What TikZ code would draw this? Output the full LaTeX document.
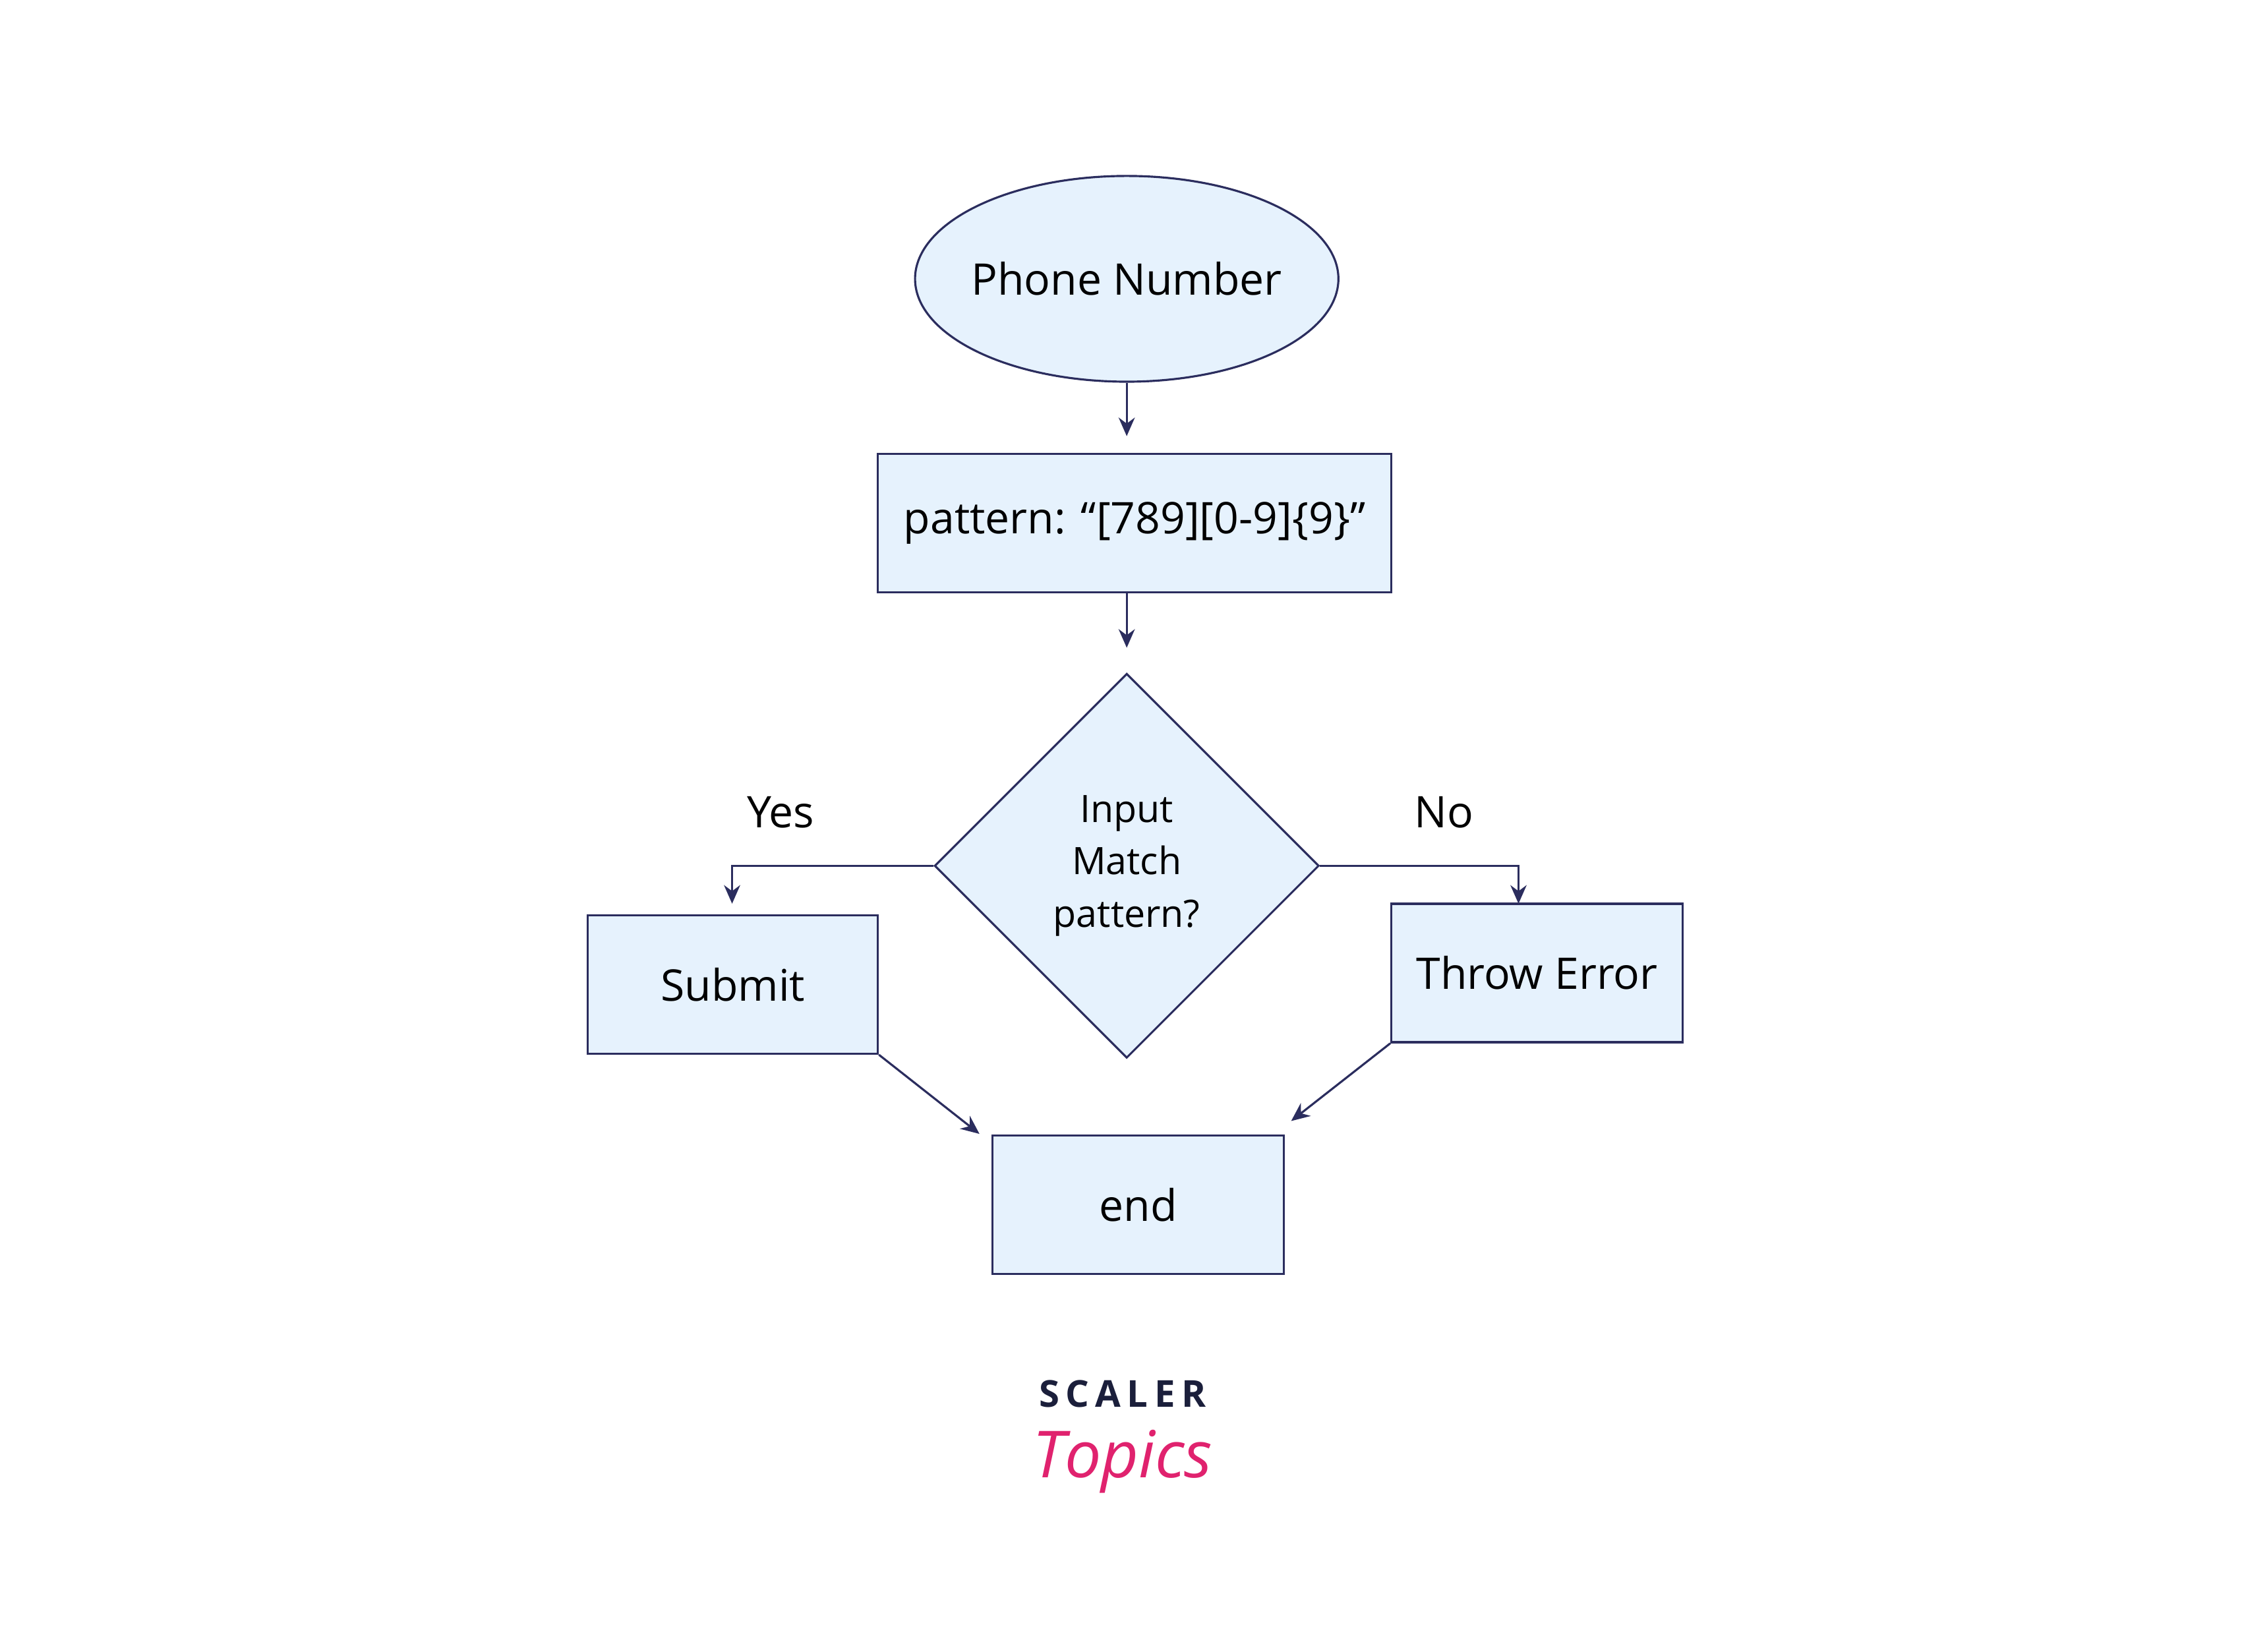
\documentclass[tikz,border=0pt]{standalone}
\usepackage{fontspec}
\setmainfont{Open Sans}
\usetikzlibrary{shapes.geometric,arrows.meta}
\definecolor{bx}{HTML}{E6F2FD}
\definecolor{ln}{HTML}{2B2D5E}
\definecolor{pk}{HTML}{E0226E}
\definecolor{dk}{HTML}{1B1F3B}
\begin{document}
\begin{tikzpicture}[x=0.02169cm,y=-0.02169cm,
  shp/.style={draw=ln,fill=bx,line width=0.9pt,inner sep=0pt,font=\fontsize{18.8}{22}\selectfont,text=black},
  rbox/.style={shp,rectangle,minimum height=2.10cm},
  con/.style={draw=ln,line width=0.9pt,-{Stealth[length=8pt,width=7pt]}}]
\useasboundingbox (0,0) rectangle (1568,1155);
\node[shp,ellipse,inner xsep=-6pt,minimum width=6.42cm,minimum height=3.12cm] (start) at (788,195) {Phone Number};
\node[rbox,minimum width=7.79cm] (pat) at (793.5,366) {pattern: “[789][0-9]\{9\}”};
\node[shp,diamond,minimum width=5.83cm,minimum height=5.83cm,align=center,font=\fontsize{16.3}{22.5}\selectfont] (dec) at (788,605.5) {Input\\Match\\pattern?};
\node[rbox,minimum width=4.40cm] (sub) at (512.5,688.5) {Submit};
\node[rbox,minimum width=4.42cm] (err) at (1075,680.5) {Throw Error};
\node[rbox,minimum width=4.42cm] (end) at (796,842.5) {end};
\node[font=\fontsize{18.8}{22}\selectfont] (yes) at (546,568) {Yes};
\node[font=\fontsize{18.8}{22}\selectfont] (no) at (1010,568) {No};
\coordinate (sa) at (512,632);
\coordinate (ea) at (1062,632);
\coordinate (ein) at (685,793);
\coordinate (ein2) at (903,784);
\draw[con] (start.south) -- (788,305);
\draw[con] (pat.south -| 788,0) -- (788,453);
\draw[con] (dec.west) -| (sa);
\draw[con] (dec.east) -| (ea);
\draw[con] (sub.south east) -- (ein);
\draw[con] (err.south west) -- (ein2);
\node[font=\bfseries\fontsize{16}{18}\selectfont,text=dk] (logo1) at (785,975) {S\,C\,A\,L\,E\,R};
\node[font=\itshape\fontsize{28}{30}\selectfont,text=pk] (logo2) at (785,1022) {Topics};
\end{tikzpicture}
\end{document}
